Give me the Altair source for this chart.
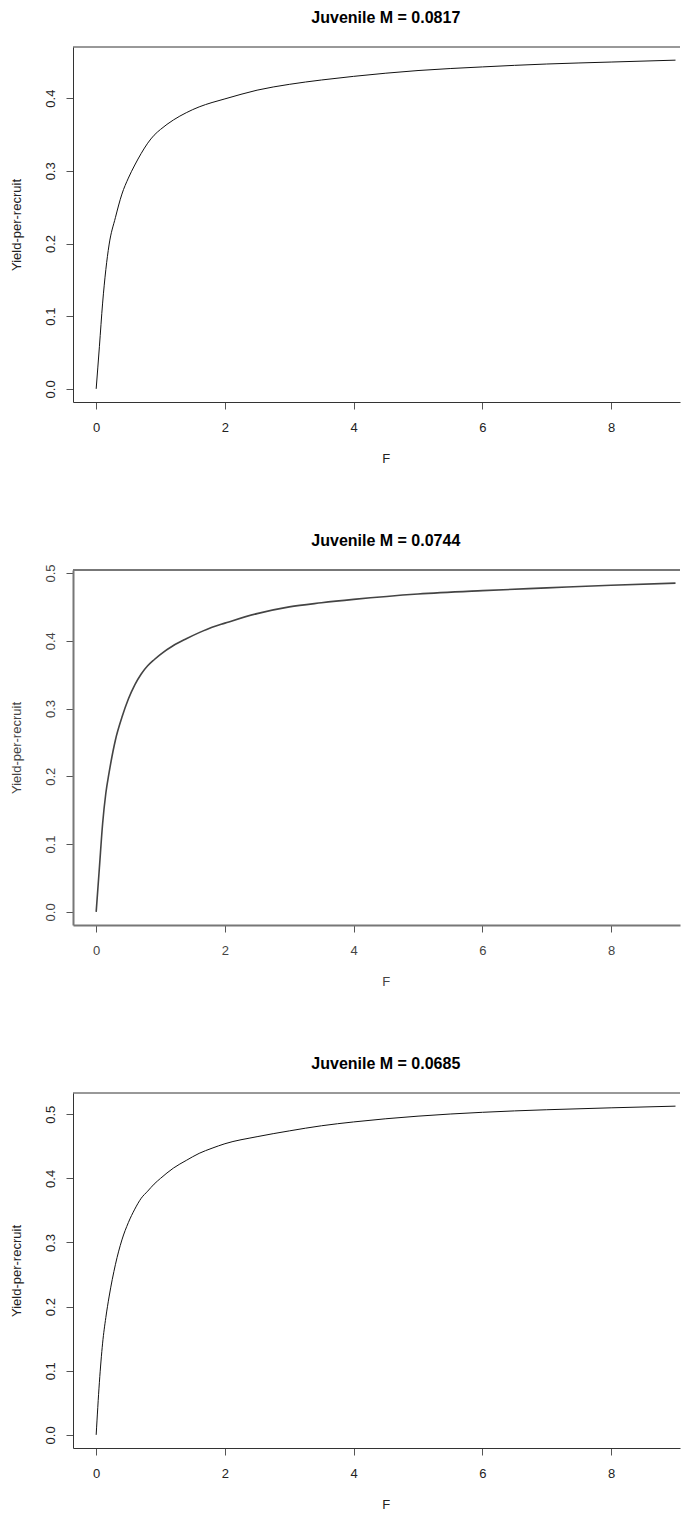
import altair as alt
import pandas as pd

# Fishing mortality grid (x) and yield-per-recruit values
F = [0, 0.05, 0.1, 0.15, 0.2, 0.3, 0.4, 0.5, 0.6, 0.7, 0.8, 0.9, 1.0, 1.2, 1.4,
     1.6, 1.8, 2.0, 2.5, 3.0, 3.5, 4.0, 5, 6, 7, 8, 9]
ypr_m0817 = [0, 0.058, 0.118, 0.164, 0.198, 0.236, 0.268, 0.290, 0.308, 0.324,
             0.338, 0.349, 0.357, 0.370, 0.380, 0.388, 0.394, 0.399, 0.411,
             0.419, 0.425, 0.430, 0.438, 0.443, 0.447, 0.4497, 0.4523]
ypr_m0744 = [0, 0.065, 0.130, 0.175, 0.205, 0.254, 0.287, 0.314, 0.335, 0.351,
             0.363, 0.372, 0.380, 0.393, 0.403, 0.412, 0.420, 0.426, 0.440,
             0.450, 0.456, 0.461, 0.469, 0.474, 0.478, 0.482, 0.485]
ypr_m0685 = [0, 0.082, 0.143, 0.183, 0.215, 0.266, 0.304, 0.331, 0.352, 0.369,
             0.380, 0.391, 0.400, 0.416, 0.428, 0.439, 0.447, 0.454, 0.465,
             0.474, 0.482, 0.488, 0.497, 0.503, 0.507, 0.510, 0.5126]

titles = ["Juvenile M = 0.0817", "Juvenile M = 0.0744", "Juvenile M = 0.0685"]
x_ticks = [0, 2, 4, 6, 8]
y_ticks_1 = [0.0, 0.1, 0.2, 0.3, 0.4]
y_ticks_2 = [0.0, 0.1, 0.2, 0.3, 0.4, 0.5]

FONT = "Liberation Sans"
W, H = 607, 355
X_MAX = -0.36 + W / 64.37


def panel(title, yvals, yticks, frame_color, frame_width, line_color, line_width,
          text_color, title_offset):
    ymax = max(yvals)
    pad = 0.04 * ymax
    ydom = [-pad, ymax + pad]
    df = pd.DataFrame({"F": F, "YPR": yvals})
    xs = alt.Scale(domain=[-0.36, X_MAX], nice=False, zero=False)
    ys = alt.Scale(domain=ydom, nice=False, zero=False)
    xaxis = alt.Axis(
        values=x_ticks, format="d", title="F", grid=False,
        domainColor=frame_color, domainWidth=frame_width,
        tickColor="#555", tickSize=7, tickWidth=1,
        labelFont=FONT, labelFontSize=13, labelColor=text_color,
        labelPadding=12, labelFlush=False,
        titleFont=FONT, titleFontSize=13, titleFontWeight="normal",
        titleColor=text_color, titleX=312.8, titleY=60.3,
        titleBaseline="alphabetic", titleAlign="center",
    )
    yaxis = alt.Axis(
        values=yticks, format=".1f", title="Yield-per-recruit", grid=False,
        domainColor=frame_color, domainWidth=frame_width,
        tickColor="#555", tickSize=7, tickWidth=1,
        labelFont=FONT, labelFontSize=13, labelColor=text_color,
        labelAngle=270, labelAlign="center", labelBaseline="alphabetic",
        labelPadding=12, labelFlush=False,
        titleFont=FONT, titleFontSize=13, titleFontWeight="normal",
        titleColor=text_color, titleAngle=270, titleX=-52.7, titleY=H / 2,
        titleBaseline="alphabetic", titleAlign="center",
    )
    line = alt.Chart(df).mark_line(
        color=line_color, strokeWidth=line_width, interpolate="monotone"
    ).encode(
        x=alt.X("F:Q", scale=xs, axis=xaxis),
        y=alt.Y("YPR:Q", scale=ys, axis=yaxis),
    )
    top = alt.Chart(pd.DataFrame({"YPR": [ydom[1]]})).mark_rule(
        color=frame_color, strokeWidth=frame_width
    ).encode(y=alt.Y("YPR:Q", scale=ys, axis=yaxis))
    return alt.layer(line, top).properties(
        width=W, height=H,
        title=alt.TitleParams(
            text=title, font=FONT, fontSize=16, fontWeight="bold",
            color="#000", anchor="middle", frame="group", dx=9.3,
            offset=title_offset, baseline="alphabetic",
        ),
    )


p1 = panel(titles[0], ypr_m0817, y_ticks_1, "#333", 1, "#111", 1, "#222", 8)
p2 = panel(titles[1], ypr_m0744, y_ticks_2, "#777", 2, "#444", 1.6, "#444", 2)
p3 = panel(titles[2], ypr_m0685, y_ticks_2, "#333", 1, "#111", 1, "#222", 8)

upper = alt.vconcat(p1, p2, spacing=66)
chart = alt.vconcat(upper, p3, spacing=66).properties(
    padding={"left": 2, "top": 1, "right": 0, "bottom": 0},
    background="white",
).configure_view(stroke=None)

chart.save("out.html", embed_options={"renderer": "svg", "actions": False})
